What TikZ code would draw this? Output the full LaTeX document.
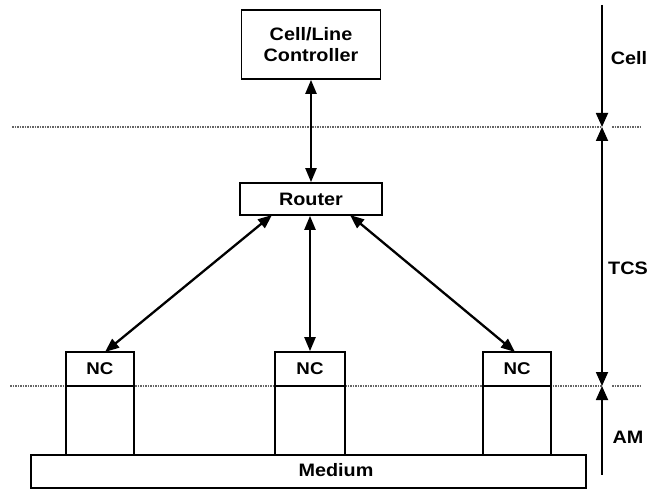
\documentclass[tikz,border=0pt]{standalone}
\usepackage{fontspec}
\setmainfont{Liberation Sans}[FakeStretch=1.1]
\usetikzlibrary{arrows.meta,calc}
\begin{document}
\begin{tikzpicture}[x=1pt,y=-1pt,
  box/.style={draw=black,line width=1.7pt,fill=white,inner sep=0pt,font=\bfseries\fontsize{18}{21}\selectfont,align=center},
  ncbox/.style={box,minimum height=34pt,font=\bfseries\fontsize{17}{20}\selectfont},
  conn/.style={line width=2.3pt,{Triangle[length=14pt,width=11pt]}-{Triangle[length=14pt,width=11pt]}},
  scaleline/.style={line width=1.8pt},
  layer/.style={draw=black!60,line width=1.5pt,densely dotted},
  lbl/.style={font=\bfseries\fontsize{18}{21}\selectfont}]
\useasboundingbox (0,0) rectangle (664,489);
% layer lines
\coordinate (la1) at (12,127);
\coordinate (la2) at (602,127);
\coordinate (la3) at (612,127);
\coordinate (la4) at (641,127);
\coordinate (lb1) at (10,386);
\coordinate (lb2) at (602,386);
\coordinate (lb3) at (612,386);
\coordinate (lb4) at (641,386);
\draw[layer] (la1) -- (la2);
\draw[layer] (la3) -- (la4);
\draw[layer] (lb1) -- (lb2);
\draw[layer] (lb3) -- (lb4);
% boxes
\node[box,minimum width=139pt,minimum height=69pt] (ctrl) at (311,44.5) {Cell/Line\\Controller};
\node[box,minimum width=142pt,minimum height=32pt] (router) at (311,199) {Router};
\node[box,minimum width=68pt,minimum height=69pt] (am1) at (100,420.5) {};
\node[box,minimum width=70pt,minimum height=69pt] (am2) at (310,420.5) {};
\node[box,minimum width=68pt,minimum height=69pt] (am3) at (517,420.5) {};
\node[ncbox,minimum width=68pt] (nc1) at (100,369) {NC};
\node[ncbox,minimum width=70pt] (nc2) at (310,369) {NC};
\node[ncbox,minimum width=68pt] (nc3) at (517,369) {NC};
\node[box,minimum width=555pt,minimum height=33pt] (medium) at (308.5,471.5) {};
\node[font=\bfseries\fontsize{18}{21}\selectfont,inner sep=0pt] (medlbl) at (336,470) {Medium};
% connectors
\coordinate (rl) at (272,215);
\coordinate (rr) at (350,215);
\coordinate (nl) at (105,352);
\coordinate (nr) at (515,352);
\draw[conn] (ctrl.south) -- (router.north);
\draw[conn] (nc2.north |- router.south) -- (nc2.north);
\draw[conn] (rl) -- (nl);
\draw[conn] (rr) -- (nr);
% scale on the right
\coordinate (s0) at (602,5);
\coordinate (s1) at (602,127);
\coordinate (s2) at (602,386);
\coordinate (s3) at (602,475);
\draw[scaleline,-{Triangle[length=14pt,width=12pt]}] (s0) -- (s1);
\draw[scaleline,{Triangle[length=14pt,width=12pt]}-{Triangle[length=14pt,width=12pt]}] (s1) -- (s2);
\draw[scaleline,{Triangle[length=14pt,width=12pt]}-] (s2) -- (s3);
\node[lbl] (tcell) at (629,58) {Cell};
\node[lbl] (ttcs) at (628,268) {TCS};
\node[lbl] (tam) at (628,437) {AM};
\end{tikzpicture}
\end{document}
